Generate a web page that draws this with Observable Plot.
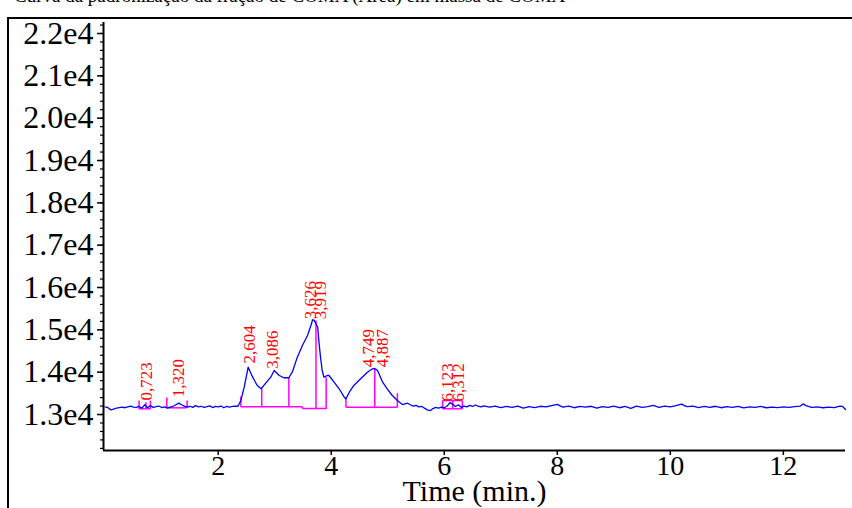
<!DOCTYPE html>
<html>
<head>
<meta charset="utf-8">
<script src="https://cdn.jsdelivr.net/npm/d3@7"></script>
<script src="https://cdn.jsdelivr.net/npm/@observablehq/plot@0.6"></script>
<style>
  html, body { margin: 0; padding: 0; background: #fff; }
  #wrap { position: relative; width: 852px; height: 508px; overflow: hidden; }
  #cap { position: absolute; left: 14px; top: -14px; font-family: "Liberation Serif", serif; font-size: 19px; line-height: 19px; white-space: nowrap; color: #000; }
  #box { position: absolute; left: 7px; top: 17px; right: -4px; bottom: -4px; border-left: 2px solid #000; border-top: 2px solid #000; pointer-events: none; }
  #chart { position: absolute; left: 0; top: 0; }
</style>
</head>
<body>
<div id="wrap">
  <div id="cap">Curva da padronização da fração de COMA (Área) em massa de COMA</div>
  <div id="chart"></div>
  <div id="box"></div>
</div>
<script>
// Chromatogram trace: time (min) and signal
const times = [
  0.00,0.05,0.10,0.15,0.20,0.25,0.30,0.35,0.40,0.45,0.50,0.55,0.60,0.65,0.70,0.75,0.80,0.85,0.90,0.95,
  1.00,1.05,1.10,1.15,1.20,1.25,1.30,1.35,1.40,1.45,1.50,1.55,1.60,1.65,1.70,1.75,1.80,1.85,1.90,1.95,
  2.00,2.05,2.10,2.15,2.20,2.25,2.30,2.35,
  2.40,2.46,2.53,2.61,2.69,2.76,2.84,2.93,2.99,3.08,3.16,3.25,3.31,3.40,3.49,3.58,3.64,3.67,3.70,3.76,
  3.78,3.81,3.84,3.87,3.93,3.96,4.05,4.14,4.23,4.26,4.32,4.40,4.52,4.64,4.73,4.77,4.82,4.91,4.99,5.08,
  5.17,5.26,5.35,
  5.40,5.45,5.50,5.55,5.60,5.65,5.70,5.75,5.80,5.85,5.90,5.95,6.00,6.05,6.10,6.15,6.20,6.25,6.30,6.35,
  6.40,6.45,6.50,6.55,6.60,6.65,6.70,6.80,6.90,7.00,7.10,7.20,7.30,7.40,7.50,7.60,7.70,7.80,7.90,8.00,
  8.05,8.10,8.20,8.30,8.40,8.50,8.60,8.70,8.80,8.90,9.00,9.10,9.20,9.30,9.40,9.50,9.60,9.70,9.80,9.90,
  10.00,10.10,10.20,10.25,10.30,10.40,10.50,10.60,10.70,10.80,10.90,11.00,11.10,11.20,11.30,11.40,11.50,11.60,11.70,11.80,
  11.90,12.00,12.10,12.20,12.30,12.35,12.40,12.50,12.60,12.70,12.80,12.90,13.00,13.05,13.10
];
const signal = [
  13180,13160,13110,13130,13150,13165,13175,13160,13180,13200,13175,13170,13190,13150,13230,13160,13210,13170,13185,13200,
  13165,13180,13150,13175,13195,13230,13270,13230,13200,13175,13195,13170,13210,13180,13195,13170,13185,13205,13165,13190,
  13180,13200,13160,13195,13175,13190,13200,13195,
  13331,13645,14118,13882,13686,13608,13740,13882,14040,13922,13868,13868,14000,14355,14631,14868,15104,15239,15222,15064,
  14749,14355,14040,13882,13922,13922,13764,13608,13409,13371,13527,13686,13844,14000,14080,14087,14040,13764,13608,13449,
  13331,13236,13267,
  13230,13200,13215,13180,13195,13150,13110,13090,13140,13170,13150,13175,13160,13200,13280,13240,13190,13230,13170,13200,
  13180,13215,13190,13225,13200,13180,13205,13175,13200,13165,13190,13170,13200,13150,13185,13165,13195,13180,13210,13240,
  13205,13175,13200,13160,13190,13175,13195,13150,13185,13170,13200,13160,13190,13145,13200,13170,13185,13215,13170,13200,
  13180,13210,13245,13210,13185,13200,13165,13190,13170,13195,13160,13185,13170,13190,13155,13180,13170,13190,13160,13175,
  13165,13180,13170,13185,13200,13250,13210,13170,13180,13160,13175,13165,13200,13190,13120
];

// Integration baselines (magenta): start, end, level
const baseStart = [0.59, 1.10, 2.40, 3.49, 4.26, 5.97, 5.97];
const baseEnd   = [0.81, 1.44, 3.49, 3.92, 5.17, 6.32, 6.32];
const baseLevel = [13135, 13158, 13182, 13142, 13172, 13135, 13330];

// Peak drop lines (magenta): time, bottom, top
const dropTime = [0.60, 0.72, 0.80, 1.09, 1.45, 2.40, 2.77, 3.25, 3.49, 3.73, 3.91, 4.26, 4.77, 5.17, 5.97, 6.15, 6.32];
const dropLow  = [13135,13135,13135,13158,13158,13182,13182,13182,13142,13142,13142,13172,13172,13172,13135,13135,13135];
const dropHigh = [13330,13290,13330,13400,13330,13425,13615,13875,13182,15222,13882,13409,14080,13504,13330,13330,13330];

// Retention-time labels (red)
const labelText = ["0,723", "1,320", "2,604", "3,086", "3,626", "3,919", "4,749", "4,887", "6,123", "6,312"];
const labelTime = [0.73, 1.30, 2.56, 2.96, 3.64, 3.81, 4.66, 4.91, 6.05, 6.26];
const labelBase = [13330, 13410, 14205, 14080, 15250, 15250, 14115, 14115, 13310, 13310];

// Axis ticks
const xTicks = [2, 4, 6, 8, 10, 12];
const yTicks = [13000, 14000, 15000, 16000, 17000, 18000, 19000, 20000, 21000, 22000];
const yMinor = d3.range(12200, 22300, 200);

const trace = times.map((t, i) => ({t, v: signal[i]}));
const bases = baseStart.map((s, i) => ({s, e: baseEnd[i], y: baseLevel[i]}));
const drops = dropTime.map((t, i) => ({t, lo: dropLow[i], hi: dropHigh[i]}));
const labels = labelText.map((txt, i) => ({txt, t: labelTime[i], b: labelBase[i]}));

const chart = Plot.plot({
  width: 852,
  height: 508,
  marginLeft: 103,
  marginRight: 7,
  marginTop: 22,
  marginBottom: 58,
  style: {fontFamily: "Liberation Serif, serif", color: "#000", background: "transparent"},
  x: {domain: [-0.03, 13.1]},
  y: {domain: [12150, 22260]},
  marks: [
    Plot.axisY({ticks: yMinor, tickSize: 3, tickFormat: () => "", strokeWidth: 1.2}),
    Plot.axisY({ticks: yTicks, tickSize: 6, tickPadding: 4, tickFormat: d => (d / 1e4).toFixed(1) + "e4", fontSize: 32, strokeWidth: 1.5, label: null}),
    Plot.axisX({ticks: xTicks, tickSize: 5, tickPadding: 0, fontSize: 28, strokeWidth: 1.5, label: null}),
    Plot.ruleX([-0.03], {stroke: "#000", strokeWidth: 2}),
    Plot.ruleY([12150], {stroke: "#000", strokeWidth: 2}),
    Plot.text(["Time (min.)"], {frameAnchor: "bottom", dy: 41, lineAnchor: "middle", fontSize: 30, fill: "#000"}),
    Plot.link(bases, {x1: "s", x2: "e", y1: "y", y2: "y", stroke: "#ff00ff", strokeWidth: 1.5}),
    Plot.link(drops, {x1: "t", x2: "t", y1: "lo", y2: "hi", stroke: "#ff00ff", strokeWidth: 1.5}),
    Plot.line(trace, {x: "t", y: "v", stroke: "#0000ff", strokeWidth: 1.3}),
    Plot.text(labels, {x: "t", y: "b", text: "txt", rotate: -90, textAnchor: "start", lineAnchor: "middle", fill: "#ff0000", fontSize: 17, fontFamily: "Liberation Serif, serif"})
  ]
});
document.getElementById("chart").appendChild(chart);
</script>
</body>
</html>
